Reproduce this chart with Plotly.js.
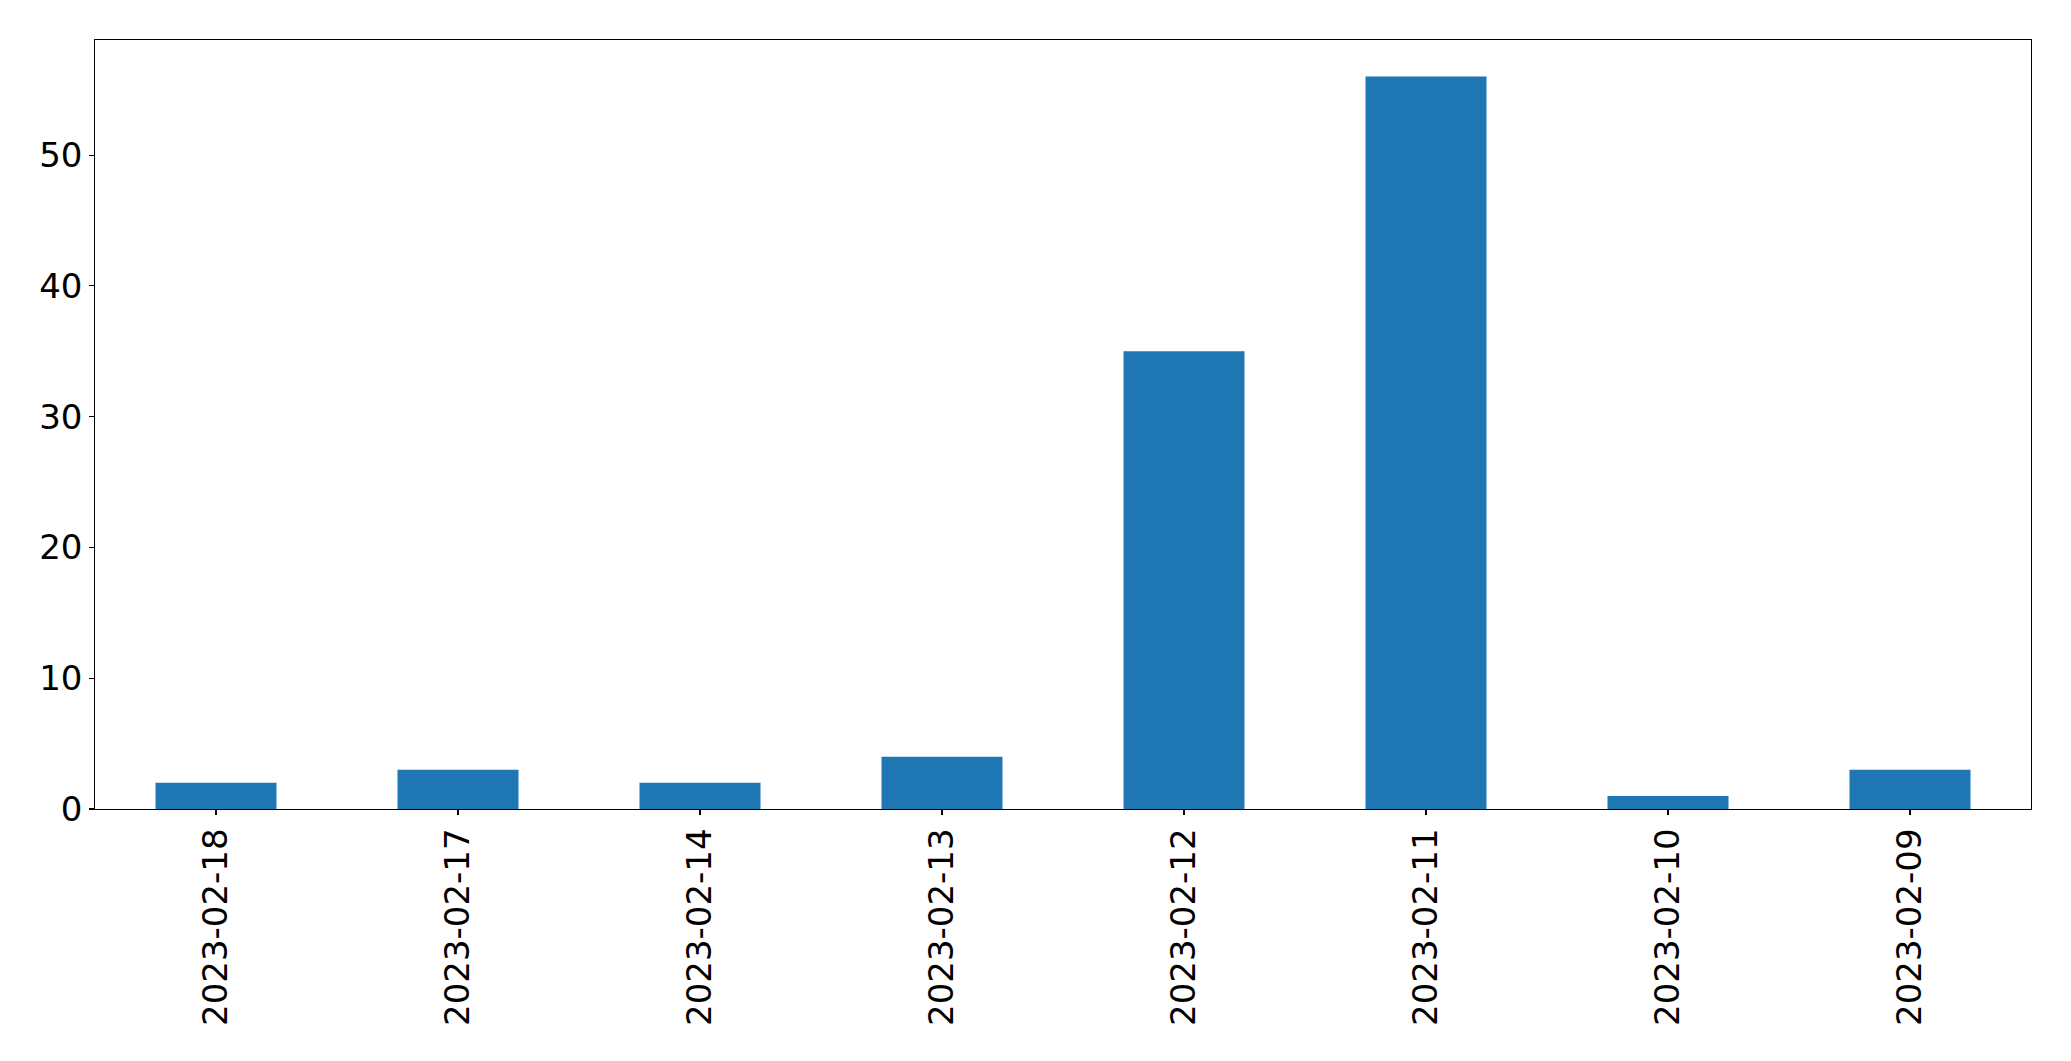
<!DOCTYPE html>
<html>
<head>
<meta charset="utf-8">
<script src="https://cdn.plot.ly/plotly-3.0.1.min.js"></script>
<style>html,body{margin:0;padding:0;background:#fff;}#chart{width:2071px;height:1061px;}</style>
</head>
<body>
<div id="chart"></div>
<script>
const categories = ["2023-02-18","2023-02-17","2023-02-14","2023-02-13","2023-02-12","2023-02-11","2023-02-10","2023-02-09"];
const counts = [2, 3, 2, 4, 35, 56, 1, 3];
const yTicks = [0, 10, 20, 30, 40, 50];

const font = {family: "DejaVu Sans, sans-serif", size: 34, color: "#000"};
const data = [{
  type: "bar",
  x: categories,
  y: counts,
  width: 0.5,
  marker: {color: "#1f77b4", line: {width: 0}},
  hoverinfo: "x+y"
}];
const layout = {
  width: 2071, height: 1061,
  margin: {l: 94.5, r: 39.5, t: 39.5, b: 252, pad: 0},
  paper_bgcolor: "#fff", plot_bgcolor: "#fff",
  showlegend: false,
  font: font,
  xaxis: {
    type: "category",
    range: [-0.5, categories.length - 0.5],
    tickangle: -90,
    ticks: "outside", ticklen: 4.7, tickwidth: 1.1, tickcolor: "#000",
    showline: true, linecolor: "#000", linewidth: 1.1, mirror: true,
    showgrid: false, zeroline: false,
    tickfont: font
  },
  yaxis: {
    range: [0, 58.8],
    tickvals: yTicks,
    ticktext: yTicks.map(String),
    ticks: "outside", ticklen: 4.7, tickwidth: 1.1, tickcolor: "#000",
    showline: true, linecolor: "#000", linewidth: 1.1, mirror: true,
    showgrid: false, zeroline: false,
    tickfont: font
  }
};
Plotly.newPlot("chart", data, layout, {displayModeBar: false, staticPlot: true});
</script>
</body>
</html>
